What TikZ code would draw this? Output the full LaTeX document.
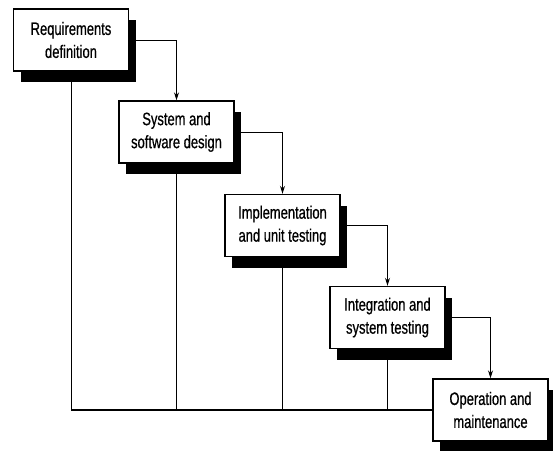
\documentclass[tikz,border=0pt]{standalone}
\usepackage{fontspec}
\setmainfont{Liberation Sans}[FakeStretch=0.72, FakeBold=0.6]
\usetikzlibrary{shadows,arrows.meta}
\begin{document}
\begin{tikzpicture}[x=1pt,y=-1pt,
  phase/.style={draw, line width=1.4pt, fill=white, minimum width=115pt, minimum height=62pt,
    inner sep=0pt, align=center, font=\fontsize{18}{23}\selectfont,
    drop shadow={shadow xshift=7pt, shadow yshift=-11pt, fill=black, opacity=1}},
  arr/.style={line width=1pt, -{Stealth[length=8pt,width=5pt]}},
  fb/.style={line width=1.4pt}]
\useasboundingbox (0,0) rectangle (553,450);
\node[phase] (b1) at (71,40) {Requirements\\definition};
\node[phase] (b2) at (176.5,132) {System and\\software design};
\node[phase] (b3) at (282.5,225.5) {Implementation\\and unit testing};
\node[phase] (b4) at (387.5,317.5) {Integration and\\system testing};
\node[phase] (b5) at (490.5,410) {Operation and\\maintenance};
\draw[arr] (b1.east) -| (b2.north);
\draw[arr] (b2.east) -| (b3.north);
\draw[arr] (b3.east) -| (b4.north);
\draw[arr] (b4.east) -| (b5.north);
\coordinate (c1) at (b1.south |- b5.west);
\coordinate (c2) at (b2.south |- b5.west);
\coordinate (c3) at (b3.south |- b5.west);
\coordinate (c4) at (b4.south |- b5.west);
\draw[fb] (b5.west) -- (c1);
\draw[arr] (c1) -- (b1.south);
\draw[arr] (c2) -- (b2.south);
\draw[arr] (c3) -- (b3.south);
\draw[arr] (c4) -- (b4.south);
\end{tikzpicture}
\end{document}
